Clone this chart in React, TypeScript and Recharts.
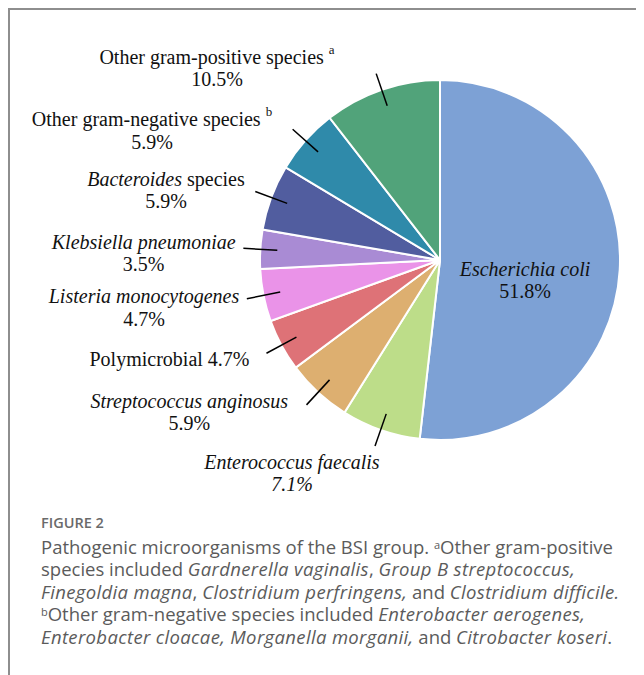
import React from "react";
import { PieChart, Pie, Cell } from "recharts";

const categories = [
  "Escherichia coli",
  "Enterococcus faecalis",
  "Streptococcus anginosus",
  "Polymicrobial",
  "Listeria monocytogenes",
  "Klebsiella pneumoniae",
  "Bacteroides species",
  "Other gram-negative species",
  "Other gram-positive species",
];

const shares = [51.8, 7.1, 5.9, 4.7, 4.7, 3.5, 5.9, 5.9, 10.5];

const sliceColors = [
  "#7DA1D5",
  "#BDDD89",
  "#DDAF70",
  "#DE7277",
  "#EA93E8",
  "#A98BD4",
  "#515D9F",
  "#2F8AAA",
  "#51A37A",
];

type Part = { t: string; i?: boolean; sup?: boolean };
const nameParts: Part[][] = [
  [{ t: "Escherichia coli", i: true }],
  [{ t: "Enterococcus faecalis", i: true }],
  [{ t: "Streptococcus anginosus", i: true }],
  [{ t: "Polymicrobial" }],
  [{ t: "Listeria monocytogenes", i: true }],
  [{ t: "Klebsiella pneumoniae", i: true }],
  [{ t: "Bacteroides", i: true }, { t: " species" }],
  [{ t: "Other gram-negative species " }, { t: "b", sup: true }],
  [{ t: "Other gram-positive species " }, { t: "a", sup: true }],
];

// label block placement relative to the pie centre (layout only)
const labelLayout = [
  { dx: 85, dy: 8.5, leader: false, pctItalic: false, inline: false },
  { dx: -148, dy: 201.7, leader: true, pctItalic: true, inline: false },
  { dx: -250.7, dy: 140.5, leader: true, pctItalic: false, inline: false },
  { dx: -270.5, dy: 99, leader: true, pctItalic: false, inline: true },
  { dx: -296, dy: 36, leader: true, pctItalic: false, inline: false },
  { dx: -296.3, dy: -18.3, leader: true, pctItalic: false, inline: false },
  { dx: -274, dy: -81.5, leader: true, pctItalic: false, inline: false },
  { dx: -288, dy: -141, leader: true, pctItalic: false, inline: false },
  { dx: -223, dy: -203.5, leader: true, pctItalic: false, inline: false },
];

const data = categories.map((name, i) => ({ name, value: shares[i] }));

const SERIF = "'Liberation Serif', 'Times New Roman', serif";
const RAD = Math.PI / 180;
const LINE_GAP = 22.5;

const renderLabel = (props: any) => {
  const { cx, cy, midAngle, index, value } = props;
  const lay = labelLayout[index];
  const parts = nameParts[index];
  const x = cx + lay.dx;
  const y = cy + lay.dy;
  const pct = `${Number(value).toFixed(1)}%`;
  const r1 = 163;
  const r2 = 197;
  const c = Math.cos(-midAngle * RAD);
  const s = Math.sin(-midAngle * RAD);
  return (
    <g key={`lbl-${index}`}>
      {lay.leader && (
        <line
          x1={cx + r1 * c}
          y1={cy + r1 * s}
          x2={cx + r2 * c}
          y2={cy + r2 * s}
          stroke="#000"
          strokeWidth={1.5}
        />
      )}
      <text
        x={x}
        y={y}
        textAnchor="middle"
        dominantBaseline="central"
        fontFamily={SERIF}
        fontSize={20}
        fill="#111"
      >
        {parts.map((p, k) =>
          p.sup ? (
            <tspan key={k} fontSize={13} dy={-8}>
              {p.t}
            </tspan>
          ) : (
            <tspan key={k} fontStyle={p.i ? "italic" : "normal"}>
              {p.t}
            </tspan>
          )
        )}
        {lay.inline && <tspan fontStyle="normal">{` ${pct}`}</tspan>}
      </text>
      {!lay.inline && (
        <text
          x={x}
          y={y + LINE_GAP}
          textAnchor="middle"
          dominantBaseline="central"
          fontFamily={SERIF}
          fontSize={20}
          fontStyle={lay.pctItalic ? "italic" : "normal"}
          fill="#111"
        >
          {pct}
        </text>
      )}
    </g>
  );
};

const captionStyle: React.CSSProperties = {
  position: "absolute",
  left: 33,
  top: 527.7,
  fontFamily: "'Open Sans', 'Noto Sans', sans-serif",
  fontSize: 18.5,
  lineHeight: "22.6px",
  color: "#5b5b5b",
  whiteSpace: "nowrap",
};

const it: React.CSSProperties = { fontStyle: "italic", letterSpacing: "0.35px" };
const supStyle: React.CSSProperties = { fontSize: 11, verticalAlign: "5px", lineHeight: 0 };

export default function App() {
  return (
    <div style={{ position: "relative", width: 636, height: 667, background: "#fff" }}>
      <div style={{ position: "absolute", left: 0, top: 0, width: 636, height: 1.5, background: "#8e8e8e" }} />
      <div style={{ position: "absolute", left: 0, top: 0, width: 1.5, height: 667, background: "#8e8e8e" }} />
      <div style={{ position: "absolute", left: 0, top: 0 }}>
        <PieChart width={636} height={500} margin={{ top: 0, right: 0, bottom: 0, left: 0 }}>
          <Pie
            data={data}
            dataKey="value"
            nameKey="name"
            cx={432}
            cy={252}
            outerRadius={180}
            startAngle={90}
            endAngle={-270}
            stroke="#ffffff"
            strokeWidth={2}
            label={renderLabel}
            labelLine={false}
            isAnimationActive={false}
          >
            {data.map((d, i) => (
              <Cell key={d.name} fill={sliceColors[i]} />
            ))}
          </Pie>
        </PieChart>
      </div>
      <div
        style={{
          position: "absolute",
          left: 33,
          top: 506,
          fontFamily: "'Open Sans', 'Noto Sans', sans-serif",
          fontSize: 14.5,
          fontWeight: 600,
          lineHeight: "18px",
          color: "#6a6a6a",
        }}
      >
        FIGURE 2
      </div>
      <div style={captionStyle}>
        Pathogenic microorganisms of the BSI group. <sup style={supStyle}>a</sup>Other gram-positive
        <br />
        species included <span style={it}>Gardnerella vaginalis</span>, <span style={it}>Group B streptococcus,</span>
        <br />
        <span style={it}>Finegoldia magna</span>, <span style={it}>Clostridium perfringens,</span> and <span style={it}>Clostridium difficile.</span>
        <br />
        <sup style={supStyle}>b</sup>Other gram-negative species included <span style={it}>Enterobacter aerogenes,</span>
        <br />
        <span style={it}>Enterobacter cloacae, Morganella morganii,</span> and <span style={it}>Citrobacter koseri</span>.
      </div>
    </div>
  );
}
